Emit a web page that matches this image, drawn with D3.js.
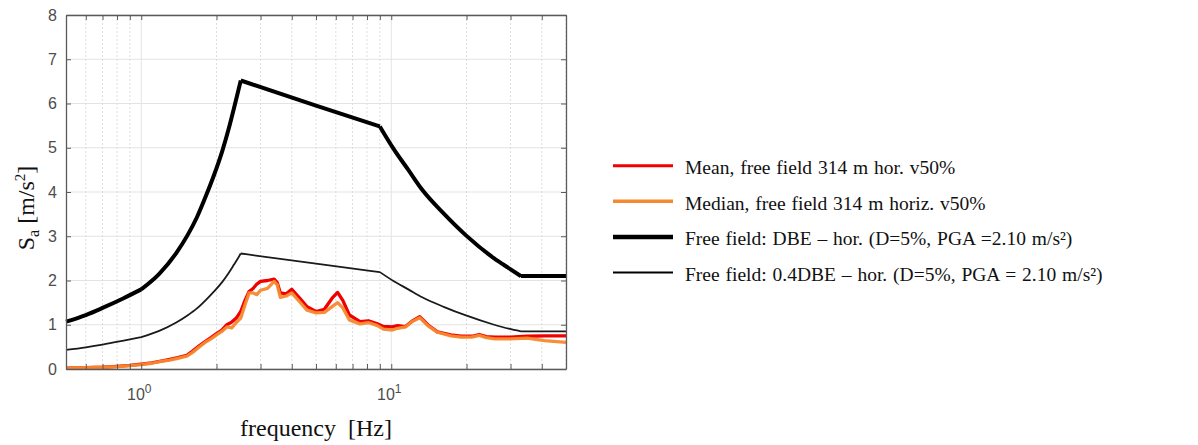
<!DOCTYPE html>
<html><head><meta charset="utf-8">
<script src="https://cdn.jsdelivr.net/npm/d3@7"></script>
<style>body{margin:0;background:#fff}</style>
</head><body>
<svg id="c" width="1198" height="445"></svg>
<script>
// ---- data ----
const freq = [0.5,0.6,0.7,0.8,0.9,1.0,1.1,1.2,1.3,1.4,1.52,1.6,1.7,1.8,1.9,2.0,2.1,2.2,2.3,2.4,2.5,2.6,2.7,2.8,2.9,3.0,3.2,3.4,3.5,3.6,3.8,4.0,4.3,4.6,5.0,5.4,5.8,6.1,6.4,6.8,7.5,8.1,8.8,9.3,10.1,10.6,11.4,12.1,13.0,14.0,15.3,17.3,19.0,21.0,22.5,24.0,26.0,30.0,35.0,41.0,50.0];
const meanSa = [0.02,0.03,0.04,0.06,0.08,0.11,0.14,0.18,0.22,0.26,0.31,0.4,0.52,0.62,0.71,0.8,0.88,1.0,1.06,1.15,1.3,1.55,1.75,1.82,1.92,1.98,2.0,2.03,1.95,1.72,1.7,1.8,1.6,1.41,1.3,1.35,1.6,1.73,1.55,1.22,1.07,1.09,1.02,0.96,0.95,0.98,0.96,1.08,1.18,1.0,0.84,0.77,0.74,0.74,0.78,0.73,0.72,0.72,0.74,0.75,0.75];
const medianSa = [0.02,0.03,0.04,0.055,0.075,0.1,0.13,0.17,0.2,0.24,0.29,0.37,0.49,0.6,0.68,0.77,0.85,0.95,0.93,1.05,1.15,1.45,1.72,1.72,1.68,1.78,1.82,1.98,1.9,1.62,1.65,1.72,1.52,1.33,1.27,1.28,1.41,1.5,1.38,1.11,1.02,1.05,0.98,0.9,0.88,0.92,0.95,1.07,1.16,0.98,0.83,0.75,0.72,0.72,0.76,0.71,0.68,0.68,0.7,0.64,0.6];
const specFreq = [0.5,0.6,0.7,0.85,1.0,1.18,1.38,1.53,1.67,1.82,1.96,2.11,2.23,2.35,2.43,2.5,5.0,9.0,10.2,11.7,13.3,16.3,19.9,25.8,29.5,33.0,50.0];
const dbeSa = [1.07,1.22,1.38,1.6,1.8,2.15,2.62,3.02,3.43,3.93,4.4,4.93,5.4,5.9,6.23,6.52,5.95,5.48,4.98,4.5,4.05,3.5,3.02,2.5,2.28,2.1,2.1];
const dbe04Sa = [0.43,0.49,0.55,0.64,0.72,0.86,1.05,1.21,1.37,1.57,1.76,1.97,2.16,2.36,2.49,2.61,2.38,2.19,1.99,1.8,1.62,1.4,1.21,1.0,0.91,0.85,0.85];
const cornerFreq = [1.0, 2.5, 9.0, 33.0];
const yTicks = [0,1,2,3,4,5,6,7,8];
const xMajor = [1,10];
const xMinor = [0.6,0.7,0.8,0.9,2,3,4,5,6,7,8,9,20,30,40,50];
const legendLabels = [
  "Mean, free field 314 m hor. v50%",
  "Median, free field 314 m horiz. v50%",
  "Free field: DBE \u2013 hor. (D=5%, PGA =2.10 m/s\u00b2)",
  "Free field: 0.4DBE \u2013 hor. (D=5%, PGA = 2.10 m/s\u00b2)"
];

// ---- layout ----
const L = 66, R = 566, T = 15, B = 369;
const SERIF = "'Liberation Serif', 'Times New Roman', Times, serif";
const SANS = "'Liberation Sans', Arial, Helvetica, sans-serif";
const svg = d3.select("#c");
const x = d3.scaleLog().domain([0.5, 50]).range([L, R]);
const y = d3.scaleLinear().domain([0, 8]).range([B, T]);

// grid
const g = svg.append("g");
g.selectAll(".ym").data(yTicks).join("line")
  .attr("x1", L).attr("x2", R).attr("y1", d => y(d)).attr("y2", d => y(d))
  .attr("stroke", "#e3e3e3").attr("stroke-width", 1);
g.selectAll(".xm").data(xMinor).join("line")
  .attr("x1", d => x(d)).attr("x2", d => x(d)).attr("y1", T).attr("y2", B)
  .attr("stroke", "#dedede").attr("stroke-width", 1).attr("stroke-dasharray", "2,2");
g.selectAll(".xM").data(xMajor).join("line")
  .attr("x1", d => x(d)).attr("x2", d => x(d)).attr("y1", T).attr("y2", B)
  .attr("stroke", "#e3e3e3").attr("stroke-width", 1);

// spectra: smooth inside each branch, sharp at the corner frequencies
function segmentedPath(xs, ys) {
  const pts = xs.map((f, i) => [x(f), y(ys[i])]);
  const segs = [];
  let cur = [];
  xs.forEach((f, i) => {
    cur.push(pts[i]);
    if (cornerFreq.includes(f)) { segs.push(cur); cur = [pts[i]]; }
  });
  if (cur.length > 1) segs.push(cur);
  const gen = d3.line().curve(d3.curveMonotoneX);
  return segs.map(s => gen(s)).join("");
}
const line = (xs, ys) => d3.line().x((d, i) => x(xs[i])).y(d => y(d))(ys);

svg.append("path").attr("d", segmentedPath(specFreq, dbeSa)).attr("fill", "none")
  .attr("stroke", "#000").attr("stroke-width", 4).attr("stroke-linejoin", "round");
svg.append("path").attr("d", segmentedPath(specFreq, dbe04Sa)).attr("fill", "none")
  .attr("stroke", "#1a1a1a").attr("stroke-width", 1.8).attr("stroke-linejoin", "round");
svg.append("path").attr("d", line(freq, meanSa)).attr("fill", "none")
  .attr("stroke", "#f00000").attr("stroke-width", 3.3).attr("stroke-linejoin", "round");
svg.append("path").attr("d", line(freq, medianSa)).attr("fill", "none")
  .attr("stroke", "#f5892e").attr("stroke-width", 3.3).attr("stroke-linejoin", "round").attr("opacity", 0.95);

// axes box with inward ticks
const axCol = "#5a5a5a";
const gy = svg.append("g").attr("transform", `translate(${L},0)`)
  .call(d3.axisLeft(y).tickValues(yTicks).tickSizeInner(-5).tickSizeOuter(0).tickPadding(9).tickFormat(d3.format("d")));
gy.select(".domain").attr("stroke", axCol).attr("stroke-width", 1.3);
gy.selectAll(".tick line").attr("stroke", axCol);
gy.selectAll(".tick text").attr("fill", "#4d4d4d").style("font-family", SANS).attr("font-size", 16);

const gyr = svg.append("g").attr("transform", `translate(${R},0)`)
  .call(d3.axisRight(y).tickValues(yTicks).tickSizeInner(-5).tickSizeOuter(0).tickFormat(""));
gyr.select(".domain").attr("stroke", axCol).attr("stroke-width", 1.3);
gyr.selectAll(".tick line").attr("stroke", axCol);

const gx = svg.append("g").attr("transform", `translate(0,${B})`)
  .call(d3.axisBottom(x).tickValues(xMajor.concat(xMinor)).tickSizeInner(-5).tickSizeOuter(0).tickFormat(""));
gx.select(".domain").attr("stroke", axCol).attr("stroke-width", 1.3);
gx.selectAll(".tick line").attr("stroke", axCol);
const gxt = svg.append("g").attr("transform", `translate(0,${T})`)
  .call(d3.axisTop(x).tickValues(xMajor.concat(xMinor)).tickSizeInner(-5).tickSizeOuter(0).tickFormat(""));
gxt.select(".domain").attr("stroke", axCol).attr("stroke-width", 1.3);
gxt.selectAll(".tick line").attr("stroke", axCol);

// x tick labels 10^n
xMajor.forEach(v => {
  const t = svg.append("text").attr("x", x(v) - 2).attr("y", 400)
    .attr("text-anchor", "middle").attr("fill", "#4d4d4d")
    .style("font-family", SANS).attr("font-size", 16);
  t.append("tspan").text("10");
  t.append("tspan").attr("dy", -7).attr("font-size", 12).text(String(Math.round(Math.log10(v))));
});

// axis titles
svg.append("text").attr("x", 316).attr("y", 436).attr("text-anchor", "middle")
  .style("font-family", SERIF).attr("font-size", 24).attr("fill", "#111")
  .text("frequency\u00a0 [Hz]");
const yl = svg.append("text").attr("transform", "translate(34,208) rotate(-90)").attr("text-anchor", "middle")
  .style("font-family", SERIF).attr("font-size", 24).attr("fill", "#111");
yl.append("tspan").text("S");
yl.append("tspan").attr("font-size", 16).attr("dy", 5).text("a");
yl.append("tspan").attr("dy", -5).text(" [m/s");
yl.append("tspan").attr("font-size", 15).attr("dy", -9).text("2");
yl.append("tspan").attr("dy", 9).text("]");

// legend
const legColors = ["#f00000", "#f5892e", "#000", "#000"];
const legWidths = [3, 3.5, 4.5, 2];
const leg = svg.append("g");
legendLabels.forEach((lab, i) => {
  const cy = 165.7 + i * 35.6;
  leg.append("line").attr("x1", 613).attr("x2", 673).attr("y1", cy).attr("y2", cy)
    .attr("stroke", legColors[i]).attr("stroke-width", legWidths[i]);
  leg.append("text").attr("x", 685).attr("y", cy + 8.5)
    .style("font-family", SERIF).attr("font-size", 19.5).attr("fill", "#111")
    .style("word-spacing", "1px")
    .text(lab);
});
</script>
</body></html>
